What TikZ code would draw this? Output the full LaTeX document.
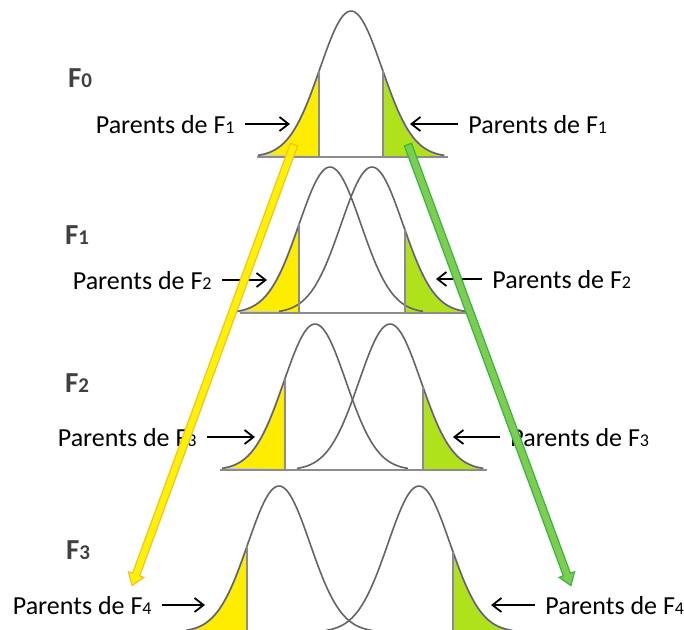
\documentclass[tikz,border=0pt]{standalone}
\usepackage{fontspec}
\setmainfont{Carlito}
\usetikzlibrary{arrows.meta,shapes.arrows,calc}

\definecolor{courbe}{RGB}{100,100,100}
\definecolor{trait}{RGB}{140,140,140}
\definecolor{jaune}{RGB}{255,237,0}
\definecolor{vert}{RGB}{176,226,28}
\definecolor{bord}{RGB}{205,205,205}
\definecolor{titre}{RGB}{64,64,64}
\definecolor{flecheJ}{RGB}{255,243,0}
\definecolor{flecheJbord}{RGB}{250,190,40}
\definecolor{flecheV}{RGB}{125,205,80}
\definecolor{flecheVbord}{RGB}{55,180,70}

\newcommand{\gen}[1]{F{\fontsize{9}{9}\selectfont #1}}
\newcommand{\genbf}[1]{F{\fontsize{10.5}{10.5}\selectfont\bfseries #1}}

\tikzset{
    courbe/.style={draw=courbe, line width=0.8pt},
    coupe/.style={draw=trait, line width=1pt},
    base/.style={draw=trait, line width=1.2pt},
    zonej/.style={fill=jaune, draw=bord, line width=1pt},
    zonev/.style={fill=vert, draw=bord, line width=1pt},
    lbl/.style={font=\fontsize{13}{15}\selectfont, inner xsep=5pt, inner ysep=0pt, text height=9pt, text depth=0pt},
    gen/.style={font=\fontsize{14.5}{16}\selectfont\bfseries, text=titre, inner sep=0pt},
    ptr/.style={-{Straight Barb[length=4.5pt,width=7pt]}, line width=0.9pt, black},
    grande/.style={single arrow, line width=0.6pt, inner xsep=0pt, inner ysep=1.6pt,
        single arrow head extend=2.2pt, single arrow tip angle=70},
}

\begin{document}
\begin{tikzpicture}[x=0.5pt,y=-0.5pt]
    \useasboundingbox (0,0) rectangle (684,629);
    \clip (0,0) rectangle (684,629);
    % selected tails
    \foreach \m/\b/\c in {351/157/319, 330/313/299, 315/470/285, 279/632/247}
        \filldraw[zonej] plot[domain=\m-93:\c, samples=30] (\x, {\b-146*exp(-(\x-\m)*(\x-\m)/1922)}) -- (\c,\b) -- cycle;
    \foreach \m/\b/\c in {351/157/383, 372/313/405, 390/470/423, 419/632/453}
        \filldraw[zonev] plot[domain=\c:\m+93, samples=30] (\x, {\b-146*exp(-(\x-\m)*(\x-\m)/1922)}) -- (\m+93,\b) -- (\c,\b) -- cycle;
    % distributions
    \foreach \m/\b in {351/157, 330/313, 372/313, 315/470, 390/470, 279/632, 419/632}
        \draw[courbe] plot[domain=\m-93:\m+93, samples=80] (\x, {\b-146*exp(-(\x-\m)*(\x-\m)/1922)});
    \foreach \m/\b/\c in {351/157/319, 351/157/383, 330/313/299, 372/313/405, 315/470/285, 390/470/423, 279/632/247, 419/632/453}
        \draw[coupe] (\c,\b) -- (\c, {\b-146*exp(-(\c-\m)*(\c-\m)/1922)});
    \draw[base] (257,157) -- (448,157);
    \draw[base] (240,313) -- (468,313);
    \draw[base] (220,470) -- (487,470);
    \draw[base] (185,632) -- (513,632);

    % generations
    \node[gen] (f0) at (80,78) {\genbf{0}};
    \node[gen] (f1) at (77,235) {\genbf{1}};
    \node[gen] (f2) at (77,383) {\genbf{2}};
    \node[gen] (f3) at (78,550) {\genbf{3}};

    % parents
    \node[lbl, anchor=east] (p0g) at (245,124) {Parents de \gen{1}};
    \node[lbl, anchor=west] (p0d) at (458,124) {Parents de \gen{1}};
    \node[lbl, anchor=east] (p1g) at (222,280) {Parents de \gen{2}};
    \node[lbl, anchor=west] (p1d) at (482,279) {Parents de \gen{2}};
    \node[lbl, anchor=east] (p2g) at (207,437) {Parents de \gen{3}};
    \node[lbl, anchor=west] (p2d) at (500,437) {Parents de \gen{3}};
    \node[lbl, anchor=east] (p3g) at (162,605) {Parents de \gen{4}};
    \node[lbl, anchor=west] (p3d) at (535,605) {Parents de \gen{4}};
    \coordinate (t0g) at (290,124);
    \coordinate (t0d) at (410,124);
    \coordinate (t1g) at (267,280);
    \coordinate (t1d) at (436,279);
    \coordinate (t2g) at (255,437);
    \coordinate (t2d) at (453,437);
    \coordinate (t3g) at (205,605);
    \coordinate (t3d) at (491,605);
    \foreach \i in {0,...,3} {
        \draw[ptr] (p\i g) -- (t\i g);
        \draw[ptr] (p\i d) -- (t\i d);
    }

    % descent arrows
    \coordinate (ja) at (295,142);
    \coordinate (jb) at (133,583);
    \coordinate (va) at (407,142);
    \coordinate (vb) at (570,583);
    \path let \p1=($(jb)-(ja)$), \n1={atan2(\y1,\x1)}, \n2={veclen(\x1,\y1)} in
        node[grande, draw=flecheJbord, fill=flecheJ, minimum height=\n2, rotate=\n1] (fj) at ($(ja)!0.5!(jb)$) {};
    \path let \p1=($(vb)-(va)$), \n1={atan2(\y1,\x1)}, \n2={veclen(\x1,\y1)} in
        node[grande, draw=flecheVbord, fill=flecheV, minimum height=\n2, rotate=\n1] (fv) at ($(va)!0.5!(vb)$) {};
\end{tikzpicture}
\end{document}
